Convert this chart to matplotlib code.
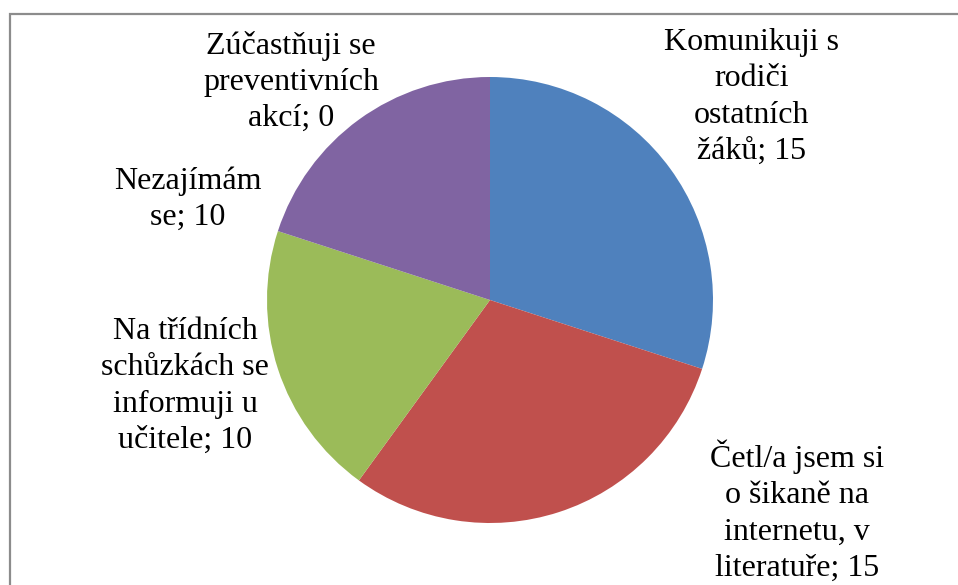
import matplotlib.pyplot as plt
from matplotlib.patches import Rectangle

plt.rcParams['font.family'] = ['Liberation Serif', 'DejaVu Serif']

# data
categories = ['Komunikuji s\nrodiči\nostatních\nžáků',
              'Četl/a jsem si\no šikaně na\ninternetu, v\nliteratuře',
              'Na třídních\nschůzkách se\ninformuji u\nučitele',
              'Nezajímám\nse',
              'Zúčastňuji se\npreventivních\nakcí']
values = [15, 15, 10, 10, 0]
colors = ['#4F81BD', '#C0504D', '#9BBB59', '#8064A2', '#F79646']

W, H = 958, 585
fig = plt.figure(figsize=(W / 100, H / 100), dpi=100)
ax = fig.add_axes([0, 0, 1, 1])
ax.set_xlim(0, W)
ax.set_ylim(0, H)
ax.set_aspect('equal')
ax.axis('off')

ax.pie(values, colors=colors, startangle=90, counterclock=False,
       center=(490, H - 300), radius=223,
       wedgeprops=dict(linewidth=0))
ax.set_xlim(0, W)
ax.set_ylim(0, H)

# label positions (pixel centres, top-left origin)
label_pos = [(752, 97), (797, 511), (185, 386), (188, 199), (291, 82)]
for cat, val, (x, y) in zip(categories, values, label_pos):
    ax.text(x, H - y, f'{cat}; {val}', ha='center', va='center',
            fontsize=23, linespacing=1.33, color='black')

# chart frame
fig.patches.append(Rectangle((9.5 / W, -0.1), 1.2, (H - 13.5) / H + 0.1,
                             transform=fig.transFigure, fill=False,
                             edgecolor='#8c8c8c', linewidth=1.6))

fig.savefig('out.png', dpi=100)
